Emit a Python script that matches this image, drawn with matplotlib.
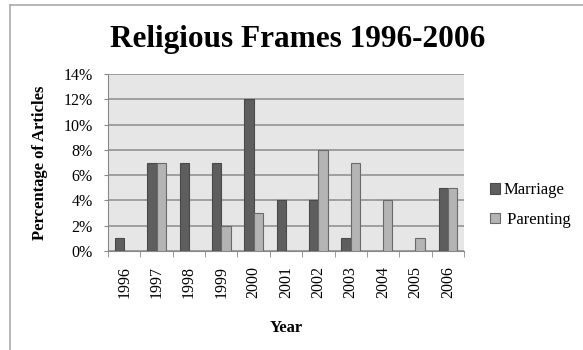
import matplotlib.pyplot as plt
import numpy as np
from matplotlib.lines import Line2D
from matplotlib.ticker import FuncFormatter

years = ["1996", "1997", "1998", "1999", "2000", "2001",
         "2002", "2003", "2004", "2005", "2006"]
marriage = [1, 7, 7, 7, 12, 4, 4, 1, 0, 0, 5]
parenting = [0, 7, 0, 2, 3, 0, 8, 7, 4, 1, 5]

plt.rcParams["font.family"] = ["Liberation Serif", "DejaVu Serif"]

fig = plt.figure(figsize=(5.83, 3.5), dpi=100)
ax = fig.add_axes([108 / 583, 1 - 251 / 350, 356 / 583, 177 / 350])
ax.set_facecolor("#e6e6e6")

x = np.arange(len(years))
w = 1 / 3.5
ax.bar(x - w / 2, marriage, width=w, color="#5e5e5e", edgecolor="#4a4a4a",
       linewidth=0.8, label="Marriage", zorder=3)
ax.bar(x + w / 2, parenting, width=w, color="#b4b4b4", edgecolor="#6a6a6a",
       linewidth=0.8, label=" Parenting", zorder=3)

ax.set_xlim(-0.5, len(years) - 0.5)
ax.set_ylim(0, 14)
ax.set_yticks(range(0, 15, 2))
ax.yaxis.set_major_formatter(FuncFormatter(lambda v, _: f"{v:.0f}%"))
ax.grid(axis="y", color="#999999", linewidth=1.3, zorder=1)
ax.set_axisbelow(True)

# category labels centred, tick marks on the boundaries
ax.set_xticks(x)
ax.set_xticklabels(years, rotation=90, fontsize=11.5)
ax.set_xticks(np.arange(-0.5, len(years)), minor=True)
ax.tick_params(axis="x", which="major", length=0, pad=11)
ax.tick_params(axis="x", which="minor", length=4, color="#888888")
ax.tick_params(axis="y", length=3, color="#888888", labelsize=11.5, pad=8)

for side in ("top", "right"):
    ax.spines[side].set_visible(False)
for side in ("left", "bottom"):
    ax.spines[side].set_color("#888888")

ax.set_xlabel("Year", fontsize=12, fontweight="bold", labelpad=16)
ax.set_ylabel("Percentage of Articles", fontsize=12, fontweight="bold", labelpad=11)

fig.text(298 / 583, 1 - 40 / 350, "Religious Frames 1996-2006",
         ha="center", va="center", fontsize=22.5, fontweight="bold")

fig.legend(loc="center left", bbox_to_anchor=(490 / 583, 1 - 205 / 350),
           bbox_transform=fig.transFigure, frameon=False, fontsize=12,
           borderpad=0, borderaxespad=0, handlelength=0.6, handleheight=0.6,
           handletextpad=0.2, labelspacing=0.8)

# outer chart border
fig.add_artist(Line2D([10 / 583, 1], [1 - 5 / 350, 1 - 5 / 350],
                      transform=fig.transFigure, color="#aaaaaa", linewidth=1.2))
fig.add_artist(Line2D([10 / 583, 10 / 583], [0, 1 - 5 / 350],
                      transform=fig.transFigure, color="#aaaaaa", linewidth=1.2))

fig.savefig("out.png", dpi=100)
